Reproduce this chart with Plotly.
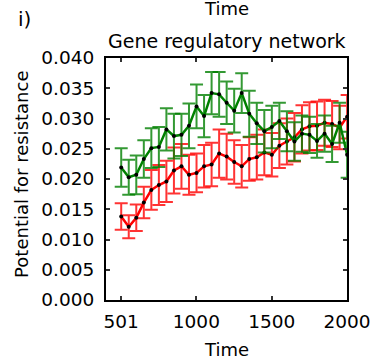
import plotly.graph_objects as go

time = [501, 551, 601, 651, 701, 751, 801, 851, 901, 951, 1001, 1051, 1101, 1151, 1201, 1251,
        1301, 1351, 1401, 1451, 1501, 1551, 1601, 1651, 1701, 1751, 1801, 1851, 1901, 1951, 2001]

green_mean = [0.0219, 0.0203, 0.0207, 0.0233, 0.0251, 0.0253, 0.0282, 0.0271, 0.0273, 0.0288,
              0.0320, 0.0304, 0.0342, 0.0340, 0.0326, 0.0313, 0.0342, 0.0308, 0.0292, 0.0279,
              0.0286, 0.0296, 0.0279, 0.0262, 0.0275, 0.0273, 0.0263, 0.0275, 0.0258, 0.0293, 0.0240]
green_err = [0.0032, 0.0029, 0.0032, 0.0031, 0.0033, 0.0033, 0.0035, 0.0037, 0.0035, 0.0037,
             0.0036, 0.0035, 0.0035, 0.0037, 0.0035, 0.0036, 0.0033, 0.0038, 0.0034, 0.0035,
             0.0035, 0.0030, 0.0033, 0.0032, 0.0030, 0.0030, 0.0028, 0.0030, 0.0030, 0.0033, 0.0038]

red_mean = [0.0138, 0.0121, 0.0136, 0.0161, 0.0182, 0.0190, 0.0196, 0.0214, 0.0221, 0.0207,
            0.0210, 0.0221, 0.0224, 0.0242, 0.0237, 0.0228, 0.0221, 0.0233, 0.0236, 0.0244,
            0.0240, 0.0255, 0.0262, 0.0269, 0.0282, 0.0287, 0.0288, 0.0293, 0.0291, 0.0285, 0.0303]
red_err = [0.0022, 0.0019, 0.0022, 0.0026, 0.0033, 0.0033, 0.0034, 0.0038, 0.0037, 0.0033,
           0.0032, 0.0035, 0.0036, 0.0040, 0.0038, 0.0036, 0.0035, 0.0036, 0.0037, 0.0038,
           0.0036, 0.0037, 0.0038, 0.0040, 0.0040, 0.0040, 0.0040, 0.0038, 0.0038, 0.0036, 0.0036]

x_tickvals = [501, 1000, 1500, 2000]
x_ticktext = ["501", "1000", "1500", "2000"]

FONT = "DejaVu Sans"

fig = go.Figure()

def add_series(mean, err, line_color, err_color):
    fig.add_trace(go.Scatter(
        x=time, y=mean, mode="lines+markers",
        line=dict(color=line_color, width=2.5),
        marker=dict(color="black", size=4, line=dict(width=0)),
        error_y=dict(type="data", array=err, visible=True, color=err_color,
                     thickness=2, width=6.5),
        showlegend=False,
    ))

add_series(red_mean, red_err, "#ff0000", "rgba(255,0,0,0.8)")
add_series(green_mean, green_err, "#008000", "rgba(0,128,0,0.8)")

axis_common = dict(
    showline=True, linewidth=2, linecolor="black", mirror="ticks",
    ticks="inside", ticklen=4, tickwidth=1.5, tickcolor="#333",
    showgrid=False, zeroline=False,
    tickfont=dict(family=FONT, size=18.5, color="black"),
)

fig.update_layout(
    width=375, height=360,
    margin=dict(l=106, r=28, t=58, b=60, autoexpand=False),
    paper_bgcolor="white", plot_bgcolor="white",
    font=dict(family=FONT, color="black"),
    xaxis=dict(range=[400, 2000], tickvals=x_tickvals, ticktext=x_ticktext,
               ticklabelstandoff=4, **axis_common),
    yaxis=dict(range=[0, 0.04], dtick=0.005, tick0=0, tickformat=".3f",
               ticklabelstandoff=6, **axis_common),
    annotations=[
        dict(text="Gene regulatory network", xref="paper", yref="paper", x=0.5, y=1.070,
             xanchor="center", yanchor="middle", showarrow=False,
             font=dict(family=FONT, size=19, color="black")),
        dict(text="Time", xref="paper", yref="paper", x=0.5, y=1.2066,
             xanchor="center", yanchor="middle", showarrow=False,
             font=dict(family=FONT, size=18, color="black")),
        dict(text="Time", xref="paper", yref="paper", x=0.5, y=-0.2025,
             xanchor="center", yanchor="middle", showarrow=False,
             font=dict(family=FONT, size=18, color="black")),
        dict(text="i)", xref="paper", yref="paper", x=-0.338, y=1.163,
             xanchor="center", yanchor="middle", showarrow=False,
             font=dict(family=FONT, size=20, color="black")),
        dict(text="Potential for resistance", xref="paper", yref="paper", x=-0.349, y=0.5207,
             xanchor="center", yanchor="middle", textangle=-90, showarrow=False,
             font=dict(family=FONT, size=18, color="black")),
    ],
)

fig.write_html("out.html")
